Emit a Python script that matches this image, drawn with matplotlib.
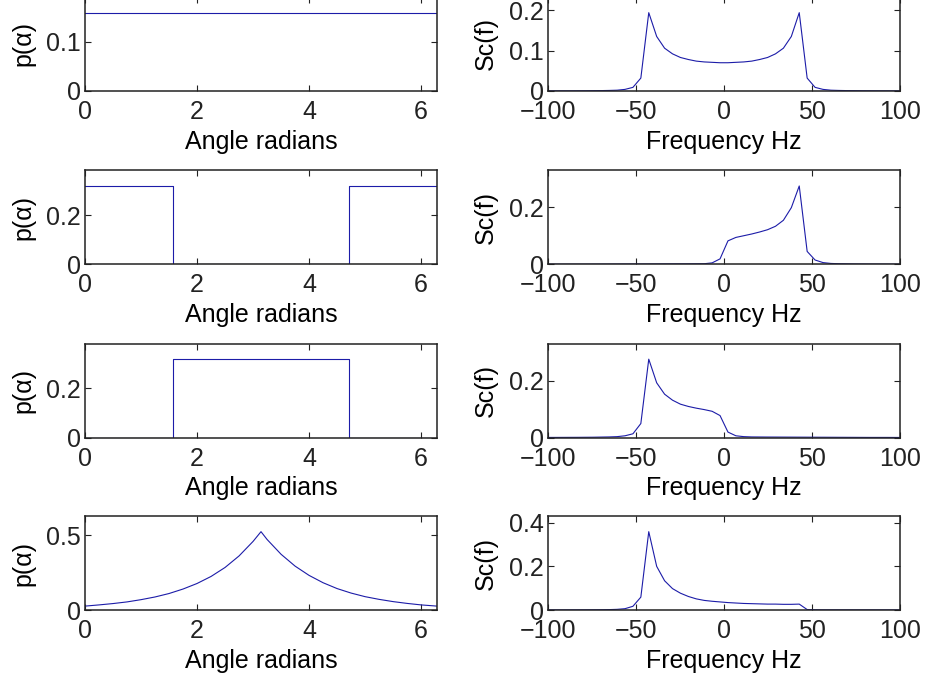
import numpy as np
import matplotlib
matplotlib.use("Agg")
import matplotlib.pyplot as plt

plt.rcParams['font.family'] = ['Liberation Sans', 'DejaVu Sans']
plt.rcParams['font.size'] = 18

# angle axis (radians) and the four angle distributions p(alpha)
alpha_flat = [0.0, 6.283]
p_flat = [0.159, 0.159]

alpha_step = [0.0, 1.571, 1.571, 4.712, 4.712, 6.283]
p_front = [0.318, 0.318, 0.0, 0.0, 0.318, 0.318]
p_back = [0.0, 0.0, 0.318, 0.318, 0.0, 0.0]

alpha_peak = [0.0, 0.25, 0.5, 0.75, 1.0, 1.25, 1.5, 1.75, 2.0, 2.25, 2.5, 2.75,
              3.0, 3.1416, 3.25, 3.5, 3.75, 4.0, 4.25, 4.5, 4.75, 5.0, 5.25,
              5.5, 5.75, 6.0, 6.283]
p_peak = [0.026, 0.034, 0.043, 0.054, 0.069, 0.087, 0.110, 0.140, 0.177, 0.224,
          0.284, 0.361, 0.458, 0.523, 0.471, 0.372, 0.293, 0.231, 0.182, 0.143,
          0.113, 0.089, 0.071, 0.056, 0.044, 0.034, 0.026]

# frequency axis (Hz) and the Doppler spectra Sc(f)
freq = [-101.25, -96.75, -92.25, -87.75, -83.25, -78.75, -74.25, -69.75, -65.25,
        -60.75, -56.25, -51.75, -47.25, -42.75, -38.25, -33.75, -29.25, -24.75,
        -20.25, -15.75, -11.25, -6.75, -2.25, 2.25, 6.75, 11.25, 15.75, 20.25,
        24.75, 29.25, 33.75, 38.25, 42.75, 47.25, 51.75, 56.25, 60.75, 65.25,
        69.75, 74.25, 78.75, 83.25, 87.75, 92.25, 96.75, 101.25]

sc_flat = [0.0003, 0.0003, 0.0004, 0.0004, 0.0005, 0.0006, 0.0008, 0.001, 0.0014,
           0.002, 0.004, 0.009, 0.032, 0.194, 0.135, 0.106, 0.092, 0.083,
           0.078, 0.074, 0.072, 0.071, 0.070, 0.070, 0.071, 0.072, 0.074, 0.078,
           0.083, 0.092, 0.106, 0.135, 0.194, 0.032, 0.009, 0.004, 0.002, 0.0014,
           0.001, 0.0008, 0.0006, 0.0005, 0.0004, 0.0004, 0.0003, 0.0003]

sc_front = [0.0002, 0.0002, 0.0002, 0.0003, 0.0003, 0.0003, 0.0004, 0.0005, 0.0006,
            0.0007, 0.0008, 0.0009, 0.001, 0.0011, 0.0012, 0.0013, 0.0014, 0.0015,
            0.0016, 0.0018, 0.002, 0.005, 0.019, 0.082, 0.094, 0.100, 0.106, 0.113,
            0.121, 0.133, 0.154, 0.198, 0.274, 0.045, 0.015, 0.006, 0.003, 0.002,
            0.0015, 0.001, 0.0008, 0.0006, 0.0005, 0.0004, 0.0003, 0.0003]

sc_back = [0.0003, 0.0003, 0.0004, 0.0005, 0.0006, 0.0008, 0.001, 0.0015, 0.002,
           0.003, 0.006, 0.013, 0.049, 0.275, 0.192, 0.152, 0.131, 0.117,
           0.109, 0.103, 0.098, 0.092, 0.077, 0.019, 0.006, 0.003, 0.002, 0.0018,
           0.0016, 0.0015, 0.0014, 0.0013, 0.0012, 0.0011, 0.001, 0.0009, 0.0008,
           0.0007, 0.0006, 0.0005, 0.0004, 0.0003, 0.0003, 0.0003, 0.0002, 0.0002]

sc_peak = [0.0002, 0.0003, 0.0003, 0.0004, 0.0005, 0.0007, 0.0009, 0.0012, 0.0018,
           0.003, 0.006, 0.017, 0.059, 0.359, 0.200, 0.134, 0.098, 0.077,
           0.062, 0.051, 0.044, 0.040, 0.037, 0.034, 0.032, 0.030, 0.029, 0.028,
           0.027, 0.027, 0.026, 0.026, 0.027, 0.002, 0.001, 0.0006, 0.0005, 0.0004,
           0.0004, 0.0003, 0.0003, 0.0003, 0.0002, 0.0002, 0.0002, 0.0002]

left_rows = [(alpha_flat, p_flat, [0, 0.1]),
             (alpha_step, p_front, [0, 0.2]),
             (alpha_step, p_back, [0, 0.2]),
             (alpha_peak, p_peak, [0, 0.5])]
right_rows = [(sc_flat, [0, 0.1, 0.2]),
              (sc_front, [0, 0.2]),
              (sc_back, [0, 0.2]),
              (sc_peak, [0, 0.2, 0.4])]

W, H = 925, 676
fig = plt.figure(figsize=(W / 100, H / 100), dpi=100)

line_color = '#1c1ca8'
row_bottoms = [91, 264.3, 437.5, 610]
ax_h = 94


def style(ax):
    ax.tick_params(direction='in', top=True, right=True, length=4, width=0.8,
                   colors='#222222', labelcolor='#222222')
    ax.tick_params(axis='x', pad=6.5)
    ax.tick_params(axis='y', pad=3)
    for s in ax.spines.values():
        s.set_linewidth(1.1)
        s.set_color('#222222')


for i in range(4):
    yb = 1 - row_bottoms[i] / H
    # left column: angle distribution
    axl = fig.add_axes([85 / W, yb, 352 / W, ax_h / H])
    a, p, yt = left_rows[i]
    axl.plot(a, p, color=line_color, lw=0.8)
    axl.set_xlim(0, 2 * np.pi)
    axl.set_ylim(0, 1.2 * max(p))
    axl.set_xticks([0, 2, 4, 6])
    axl.set_yticks(yt)
    axl.set_yticklabels([f'{v:g}' for v in yt])
    axl.set_xlabel('Angle radians', labelpad=4)
    axl.set_ylabel('p(α)', labelpad=8)
    style(axl)

    # right column: spectrum
    axr = fig.add_axes([548 / W, yb, 352 / W, ax_h / H])
    s, yt = right_rows[i]
    axr.plot(freq, s, color=line_color, lw=0.8)
    axr.set_xlim(-100, 100)
    axr.set_ylim(0, 1.2 * max(s))
    axr.set_xticks([-100, -50, 0, 50, 100])
    axr.set_xticklabels(['\u2212100', '\u221250', '0', '50', '100'])
    axr.set_yticks(yt)
    axr.set_yticklabels([f'{v:g}' for v in yt])
    axr.set_xlabel('Frequency Hz', labelpad=4)
    axr.set_ylabel('Sc(f)', labelpad=8)
    style(axr)

fig.savefig('out.png', dpi=100)
